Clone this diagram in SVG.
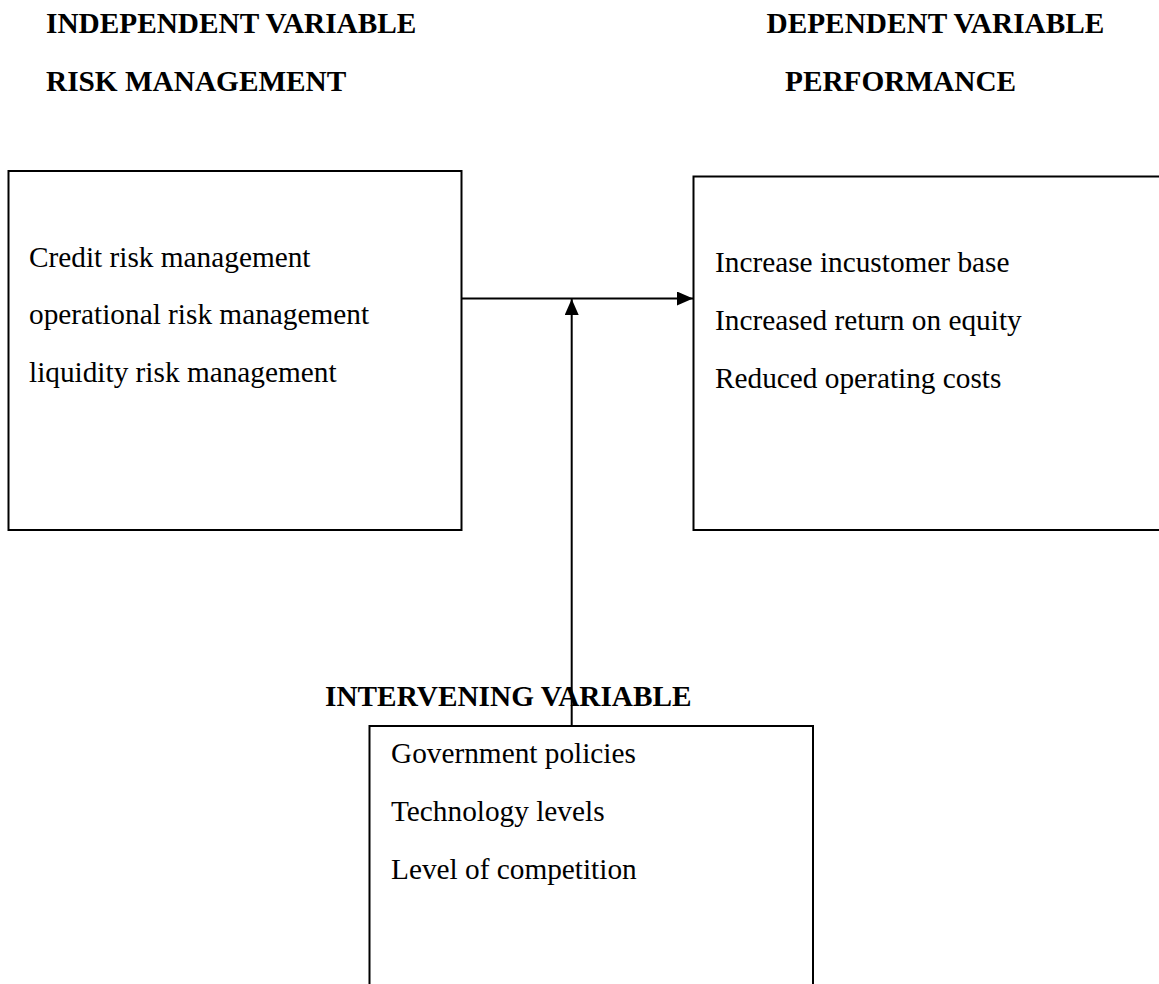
<svg xmlns="http://www.w3.org/2000/svg" width="1159" height="984" viewBox="0 0 1159 984">
  <style>
    .box { fill: #ffffff; stroke: #000000; stroke-width: 2; }
    .head { font-family: "Liberation Serif", "Times New Roman", serif; font-size: 29.3px; font-weight: bold; fill: #000000; }
    .item { font-family: "Liberation Serif", "Times New Roman", serif; font-size: 29.3px; fill: #000000; }
    .link { fill: none; stroke: #000000; stroke-width: 2; }
  </style>
  <defs>
    <marker id="arrow" viewBox="0 0 16 14" refX="16" refY="7" markerWidth="16" markerHeight="14" markerUnits="userSpaceOnUse" orient="auto">
      <path d="M0,0 L16,7 L0,14 Z" fill="#000000"/>
    </marker>
  </defs>
  <rect width="1159" height="984" fill="#ffffff"/>

  <!-- column headings -->
  <g id="headings">
    <text class="head" x="46" y="33">INDEPENDENT VARIABLE</text>
    <text class="head" x="46" y="90.5">RISK MANAGEMENT</text>
    <text class="head" x="766.5" y="33">DEPENDENT VARIABLE</text>
    <text class="head" x="785" y="90.5">PERFORMANCE</text>
  </g>

  <!-- independent variable: risk management -->
  <g id="node-independent">
    <rect class="box" x="8.5" y="171" width="453" height="359"/>
    <text class="item" x="29" y="266.7">Credit risk management</text>
    <text class="item" x="29" y="324.2">operational risk management</text>
    <text class="item" x="29" y="381.7">liquidity risk management</text>
  </g>

  <!-- dependent variable: performance -->
  <g id="node-dependent">
    <rect class="box" x="693.5" y="176.5" width="520" height="353.5"/>
    <text class="item" x="715" y="271.5">Increase incustomer base</text>
    <text class="item" x="715" y="329.5">Increased return on equity</text>
    <text class="item" x="715" y="387.5">Reduced operating costs</text>
  </g>

  <!-- intervening variable -->
  <g id="node-intervening">
    <rect class="box" x="369.5" y="726" width="443.5" height="320"/>
    <text class="item" x="391" y="763">Government policies</text>
    <text class="item" x="391" y="820.5">Technology levels</text>
    <text class="item" x="391" y="879">Level of competition</text>
  </g>

  <!-- connectors -->
  <g id="connectors">
    <line class="link" x1="461.5" y1="298.5" x2="693" y2="298.5" marker-end="url(#arrow)"/>
    <line class="link" x1="571.7" y1="726" x2="571.7" y2="299" marker-end="url(#arrow)"/>
  </g>

  <g id="label-intervening">
    <text class="head" x="325" y="705.5">INTERVENING VARIABLE</text>
  </g>
</svg>
